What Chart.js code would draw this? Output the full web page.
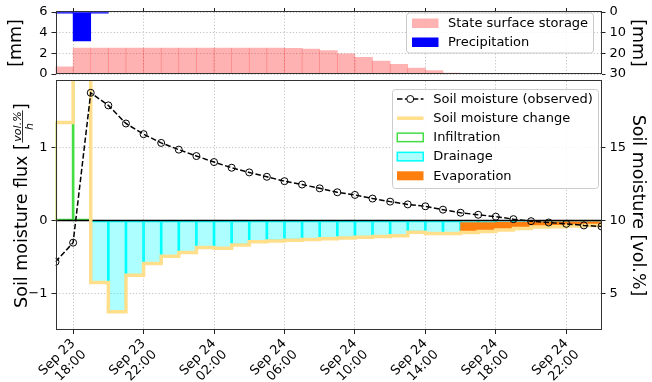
<!DOCTYPE html>
<html><head><meta charset="utf-8">
<script src="https://cdn.jsdelivr.net/npm/chart.js@4"></script>
<style>
html,body{margin:0;padding:0;background:#fff;}
#wrap{position:relative;width:652px;height:382px;overflow:hidden;}
canvas{position:absolute;left:0;}
#top{top:0;}
#bot{top:80px;}
</style></head><body>
<div id="wrap"><canvas id="top" width="652" height="80"></canvas><canvas id="bot" width="652" height="302"></canvas></div>
<script>
// hour index 0 = Sep 23 17:00, one entry per hour
const startTime = 'Sep 23 17:00';
const tickHours = [1, 5, 9, 13, 17, 21, 25, 29];
const tickLabels = [['Sep 23','18:00'],['Sep 23','22:00'],['Sep 24','02:00'],['Sep 24','06:00'],
                    ['Sep 24','10:00'],['Sep 24','14:00'],['Sep 24','18:00'],['Sep 24','22:00']];
const surfaceStorage = [0.7, 2.5, 2.5, 2.5, 2.5, 2.5, 2.5, 2.5, 2.5, 2.5, 2.5, 2.5, 2.5, 2.49,
                        2.42, 2.26, 1.94, 1.62, 1.26, 0.94, 0.58, 0.32, 0.1, 0, 0, 0, 0, 0, 0, 0, 0];
const precipitation = [0.6, 14.0, 0.6, 0, 0, 0, 0, 0, 0, 0, 0, 0, 0, 0, 0, 0, 0, 0, 0, 0, 0, 0, 0, 0, 0, 0, 0, 0, 0, 0, 0];
const infiltration = [1.34, 10.3, 0, 0, 0, 0, 0, 0, 0, 0, 0, 0, 0, 0, 0, 0, 0, 0, 0, 0, 0, 0, 0, 0, 0, 0, 0, 0, 0, 0, 0];
const drainage = [0, 0, -0.85, -1.25, -0.75, -0.59, -0.49, -0.44, -0.37, -0.38, -0.335, -0.29, -0.28, -0.27,
                  -0.26, -0.25, -0.24, -0.23, -0.22, -0.21, -0.16, -0.18, -0.18,
                  -0.03, -0.03, -0.025, -0.025, -0.02, -0.02, -0.02, -0.02];
const evaporation = [0, 0, 0, 0, 0, 0, 0, 0, 0, 0, 0, 0, 0, 0, 0, 0, 0, 0, 0, 0, 0, 0, 0,
                     -0.135, -0.12, -0.105, -0.085, -0.07, -0.065, -0.055, -0.05];
const moistureChange = [1.34, 10.3, -0.85, -1.25, -0.75, -0.59, -0.49, -0.44, -0.37, -0.38, -0.335, -0.29, -0.28, -0.27,
                        -0.26, -0.25, -0.24, -0.23, -0.22, -0.21, -0.16, -0.18, -0.18,
                        -0.165, -0.15, -0.13, -0.11, -0.09, -0.085, -0.075, -0.07];
const moistureObserved = [7.17, 8.48, 18.74, 17.88, 16.64, 15.91, 15.31, 14.85, 14.41, 14.0, 13.61, 13.29,
                          12.99, 12.69, 12.46, 12.2, 11.93, 11.75, 11.5, 11.29, 11.1, 10.97, 10.74, 10.53,
                          10.39, 10.26, 10.09, 9.95, 9.86, 9.77, 9.66, 9.59];
const mmTicks = [0, 2, 4, 6];
const precipTicks = [0, 10, 20, 30];
const fluxTicks = [-1, 0, 1];
const moistureTicks = [5, 10, 15];

const FONT = "'DejaVu Sans', sans-serif";
Chart.defaults.font.family = FONT;
Chart.defaults.font.size = 13;
Chart.defaults.color = '#000';

const fmt = v => (v < 0 ? '\u2212' : '') + Math.abs(v);
const setTicks = arr => (s => { s.ticks = arr.map(v => ({value: v})); });
const grid = onArea => ({display: true, drawOnChartArea: onArea, color: '#c4c4c4', lineWidth: 1,
  tickLength: 4, tickColor: '#222', tickWidth: 1, tickBorderDash: [], offset: false});
const border = {display: false, dash: [1.2, 2]};
const bars = arr => arr.map((v, i) => ({x: i + 0.5, y: v})).filter(p => p.y);
const barBase = {grouped: false, barPercentage: 1, categoryPercentage: 1, borderSkipped: false};
const fitW = w => (s => { s.width = w; s.paddingTop = 0; s.paddingBottom = 0; s.paddingLeft = 0; s.paddingRight = 0; });
const fitH = h => (s => { s.height = h; s.paddingTop = 0; s.paddingBottom = 0; s.paddingLeft = 0; s.paddingRight = 0; });

function roundBox(ctx, x, y, w, h, r) {
  ctx.beginPath();
  ctx.moveTo(x + r, y); ctx.lineTo(x + w - r, y); ctx.arcTo(x + w, y, x + w, y + r, r);
  ctx.lineTo(x + w, y + h - r); ctx.arcTo(x + w, y + h, x + w - r, y + h, r);
  ctx.lineTo(x + r, y + h); ctx.arcTo(x, y + h, x, y + h - r, r);
  ctx.lineTo(x, y + r); ctx.arcTo(x, y, x + r, y, r); ctx.closePath();
  ctx.fillStyle = 'rgba(255,255,255,0.85)'; ctx.fill();
  ctx.strokeStyle = '#cccccc'; ctx.lineWidth = 1; ctx.stroke();
}
function frame(chart) {
  const a = chart.chartArea, ctx = chart.ctx;
  ctx.save(); ctx.strokeStyle = '#333'; ctx.lineWidth = 1;
  const l = Math.round(a.left) + 0.5, t = Math.round(a.top) - 0.5, r = Math.round(a.right) - 0.5, b = Math.round(a.bottom) - 0.5;
  ctx.strokeRect(l, t, r - l, b - t); ctx.restore();
}
function rotText(ctx, txt, x, y, ang, size) {
  ctx.save(); ctx.translate(x, y); ctx.rotate(ang);
  ctx.font = size + 'px ' + FONT; ctx.fillStyle = '#000'; ctx.textAlign = 'center'; ctx.textBaseline = 'alphabetic';
  ctx.fillText(txt, 0, 0); ctx.restore();
}

const topPlugin = {id: 'topdeco', afterDraw(chart) {
  const ctx = chart.ctx;
  frame(chart);
  rotText(ctx, '[mm]', 20.7, 43, -Math.PI / 2, 17.5);
  rotText(ctx, '[mm]', 632.5, 43, Math.PI / 2, 17.5);
  ctx.save();
  roundBox(ctx, 406.5, 13, 187, 40, 3);
  ctx.fillStyle = 'rgba(255,0,0,0.3)'; ctx.fillRect(412, 18.5, 26.5, 9.5);
  ctx.fillStyle = '#0000ff'; ctx.fillRect(412, 37.5, 26.5, 9.5);
  ctx.fillStyle = '#000'; ctx.font = '13px ' + FONT; ctx.textAlign = 'left'; ctx.textBaseline = 'middle';
  ctx.fillText('State surface storage', 448, 23.5);
  ctx.fillText('Precipitation', 448, 42.5);
  ctx.restore();
}};

new Chart(document.getElementById('top'), {
  type: 'bar',
  data: {datasets: [
    Object.assign({label: 'State surface storage', data: bars(surfaceStorage), backgroundColor: 'rgba(255,0,0,0.3)',
      borderWidth: 0, yAxisID: 'y', order: 2}, barBase),
    Object.assign({label: 'Precipitation', data: bars(precipitation), backgroundColor: '#0000ff',
      borderWidth: 0, yAxisID: 'y2', order: 1}, barBase)
  ]},
  options: {
    responsive: false, animation: false, events: [],
    layout: {autoPadding: false, padding: {left: 0, right: 0, top: 0, bottom: 6}},
    plugins: {legend: {display: false}, tooltip: {enabled: false}},
    scales: {
      x: {type: 'linear', position: 'top', min: 0, max: 31, offset: false, afterBuildTicks: setTicks(tickHours),
        ticks: {display: false}, grid: grid(true), border, afterFit: fitH(12)},
      y: {position: 'left', min: 0, max: 6, afterBuildTicks: setTicks(mmTicks),
        ticks: {padding: 4, callback: fmt}, grid: grid(true), border, afterFit: fitW(55.5)},
      y2: {position: 'right', min: 0, max: 30, reverse: true, afterBuildTicks: setTicks(precipTicks),
        ticks: {padding: 4, callback: fmt}, grid: grid(false), border, afterFit: fitW(50.5)}
    }
  },
  plugins: [topPlugin]
});

const OY = 80;
const changeColor = '#ffdf8c';
const obsDash = [5.5, 2.4];
const botPlugin = {id: 'botdeco', afterDraw(chart) {
  const ctx = chart.ctx;
  frame(chart);
  // left label with fraction
  ctx.save();
  ctx.translate(27, 205.5 - OY); ctx.rotate(-Math.PI / 2);
  ctx.fillStyle = '#000'; ctx.textBaseline = 'alphabetic'; ctx.textAlign = 'left';
  const mainF = '17.5px ' + FONT, fracF = 'italic 11px ' + FONT;
  const t1 = 'Soil moisture flux [', t2 = ']', num = 'vol.%', den = 'h';
  ctx.font = mainF; const w1 = ctx.measureText(t1).width, w2 = ctx.measureText(t2).width;
  ctx.font = fracF; const wn = ctx.measureText(num).width, wd = ctx.measureText(den).width;
  const wf = Math.max(wn, wd) + 3, tot = w1 + wf + w2;
  let x = -tot / 2;
  ctx.font = mainF; ctx.fillText(t1, x, 0); x += w1;
  ctx.font = fracF; ctx.fillText(num, x + (wf - wn) / 2, -6.5); ctx.fillText(den, x + (wf - wd) / 2, 5.5);
  ctx.fillRect(x + 0.5, -5, wf - 1, 0.8); x += wf;
  ctx.font = mainF; ctx.fillText(t2, x, 0);
  ctx.restore();
  rotText(ctx, 'Soil moisture [vol.%]', 632.5, 205.5 - OY, Math.PI / 2, 17.5);
  // legend
  ctx.save();
  roundBox(ctx, 392.5, 89.5 - OY, 206, 99, 3);
  const hx = 397, hw = 26.5, rows = [99, 118.2, 137.4, 156.6, 175.8].map(v => v - OY);
  ctx.strokeStyle = '#000'; ctx.lineWidth = 1.5; ctx.setLineDash(obsDash);
  ctx.beginPath(); ctx.moveTo(hx, rows[0]); ctx.lineTo(hx + hw, rows[0]); ctx.stroke();
  ctx.setLineDash([]); ctx.lineWidth = 1;
  ctx.fillStyle = '#fff'; ctx.beginPath(); ctx.arc(hx + hw / 2, rows[0], 3.5, 0, Math.PI * 2); ctx.fill(); ctx.stroke();
  ctx.strokeStyle = changeColor; ctx.lineWidth = 3.5;
  ctx.beginPath(); ctx.moveTo(hx, rows[1]); ctx.lineTo(hx + hw, rows[1]); ctx.stroke();
  ctx.lineWidth = 1.5; ctx.strokeStyle = '#44dd44'; ctx.fillStyle = '#fff';
  ctx.fillRect(hx, rows[2] - 4.5, hw, 9); ctx.strokeRect(hx + 0.25, rows[2] - 4.25, hw - 0.5, 8.5);
  ctx.fillStyle = 'rgba(0,255,255,0.32)'; ctx.fillRect(hx, rows[3] - 4.5, hw, 9);
  ctx.strokeStyle = '#00ffff'; ctx.strokeRect(hx + 0.25, rows[3] - 4.25, hw - 0.5, 8.5);
  ctx.fillStyle = '#ff7f0e'; ctx.fillRect(hx, rows[4] - 4.5, hw, 9);
  ctx.fillStyle = '#000'; ctx.font = '13px ' + FONT; ctx.textAlign = 'left'; ctx.textBaseline = 'middle';
  ['Soil moisture (observed)', 'Soil moisture change', 'Infiltration', 'Drainage', 'Evaporation']
    .forEach((t, i) => ctx.fillText(t, 433.3, rows[i] + 0.5));
  ctx.restore();
}};

const changeLine = [{x: 0, y: 0}].concat(moistureChange.map((v, i) => ({x: i, y: v})),
  [{x: moistureChange.length, y: moistureChange[moistureChange.length - 1]}]);

new Chart(document.getElementById('bot'), {
  type: 'bar',
  data: {datasets: [
    Object.assign({label: 'Drainage', data: bars(drainage), backgroundColor: 'rgba(0,255,255,0.32)',
      borderColor: '#00ffff', borderWidth: 1, yAxisID: 'y', order: 5}, barBase),
    Object.assign({label: 'Evaporation', data: evaporation.map((v, i) => ({x: i + 0.5, y: v ? [drainage[i], drainage[i] + v] : 0})).filter(p => p.y),
      backgroundColor: '#ff7f0e', borderWidth: 0, yAxisID: 'y', order: 4}, barBase),
    Object.assign({label: 'Infiltration', data: bars(infiltration), backgroundColor: 'rgba(0,0,0,0)',
      borderColor: '#44dd44', borderWidth: 1, yAxisID: 'y', order: 3}, barBase),
    {type: 'line', label: 'zero', data: [{x: 0, y: 0}, {x: 31, y: 0}], borderColor: '#000', borderWidth: 1.5,
      pointRadius: 0, yAxisID: 'y', order: 2},
    {type: 'line', label: 'Soil moisture change', data: changeLine, stepped: true, borderColor: changeColor,
      borderWidth: 3.5, pointRadius: 0, fill: false, yAxisID: 'y', order: 1},
    {type: 'line', label: 'Soil moisture (observed)', data: moistureObserved.map((v, i) => ({x: i, y: v})),
      borderColor: '#000', borderWidth: 1.5, borderDash: obsDash, pointRadius: 3.5, pointBorderColor: '#000',
      pointBackgroundColor: 'rgba(0,0,0,0)', pointBorderWidth: 1, tension: 0, fill: false, yAxisID: 'y2', order: 0}
  ]},
  options: {
    responsive: false, animation: false, events: [],
    layout: {autoPadding: false, padding: {left: 0, right: 0, top: 1, bottom: 0}},
    plugins: {legend: {display: false}, tooltip: {enabled: false}},
    scales: {
      x: {type: 'linear', position: 'bottom', min: 0, max: 31, offset: false, afterBuildTicks: setTicks(tickHours),
        ticks: {minRotation: 45, maxRotation: 45, padding: 2, autoSkip: false,
          callback: v => { const i = tickHours.indexOf(v); return i >= 0 ? tickLabels[i] : ''; }},
        grid: grid(true), border, afterFit: fitH(52)},
      y: {position: 'left', min: -1.5, max: 1.91, afterBuildTicks: setTicks(fluxTicks),
        ticks: {padding: 4, callback: fmt}, grid: grid(true), border, afterFit: fitW(55.5)},
      y2: {position: 'right', min: 2.5, max: 19.55, afterBuildTicks: setTicks(moistureTicks),
        ticks: {padding: 4, callback: fmt}, grid: grid(false), border, afterFit: fitW(50.5)}
    }
  },
  plugins: [botPlugin]
});
</script>
</body></html>
